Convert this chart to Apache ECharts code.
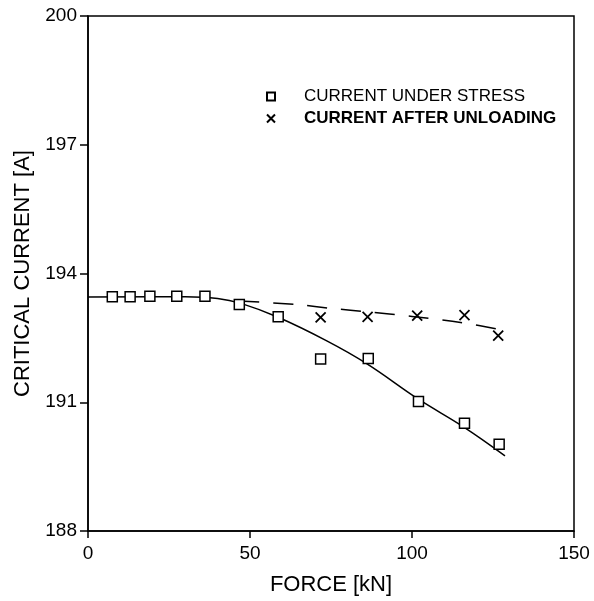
<!DOCTYPE html>
<html>
<head>
<meta charset="utf-8">
<script src="https://cdn.jsdelivr.net/npm/echarts@6/dist/echarts.min.js"></script>
<style>html,body{margin:0;padding:0;background:#fff;}#c{width:594px;height:601px;}</style>
</head>
<body>
<div id="c"></div>
<script>
// Data
var stressForce = [7.5, 13, 19.1, 27.4, 36.1, 46.7, 58.7, 71.8, 86.5, 102, 116.2, 126.9];
var stressCurrent = [193.46, 193.46, 193.47, 193.47, 193.47, 193.28, 192.99, 192.01, 192.02, 191.02, 190.51, 190.02];
var unloadForce = [71.8, 86.3, 101.6, 116.2, 126.6];
var unloadCurrent = [192.98, 192.99, 193.02, 193.03, 192.55];
var fitStressX = [0, 30, 40, 47, 58.7, 73.7, 86, 102, 116, 128.7];
var fitStressY = [193.45, 193.46, 193.42, 193.31, 192.98, 192.43, 191.9, 191.07, 190.42, 189.75];
var fitUnloadX = [46.7, 64, 76, 86, 100, 115, 128];
var fitUnloadY = [193.36, 193.28, 193.18, 193.11, 193.0, 192.86, 192.68];
var xTicks = [0, 50, 100, 150];
var yTicks = [188, 191, 194, 197, 200];
var seriesNames = ['CURRENT UNDER STRESS', 'CURRENT AFTER UNLOADING'];

function zip(a, b) { return a.map(function (v, i) { return [v, b[i]]; }); }

var chart = echarts.init(document.getElementById('c'), null, {renderer: 'canvas'});
var font = 'Liberation Sans, Arial, sans-serif';
var crossPath = 'path://M0,0L10,10M10,0L0,10';
chart.setOption({
  animation: false,
  backgroundColor: '#fff',
  grid: {left: 88, right: 20, top: 16, bottom: 67, show: true, borderColor: '#000', borderWidth: 1.5, backgroundColor: 'transparent'},
  legend: {
    orient: 'vertical', left: 261, top: 83, itemGap: 5, itemWidth: 8, itemHeight: 8,
    textStyle: {fontFamily: font, fontSize: 17, color: '#000', padding: [0, 0, 0, 24]},
    data: [
      {name: seriesNames[0], icon: 'rect'},
      {name: seriesNames[1], icon: crossPath, textStyle: {fontWeight: 'bold'}}
    ]
  },
  xAxis: {
    type: 'value', min: xTicks[0], max: xTicks[xTicks.length - 1], interval: 50,
    name: 'FORCE [kN]', nameLocation: 'middle', nameGap: 43,
    nameTextStyle: {fontFamily: font, fontSize: 22, color: '#000'},
    axisLine: {lineStyle: {color: '#000', width: 1.5}},
    axisTick: {inside: false, length: 7, lineStyle: {color: '#000', width: 1.5}},
    axisLabel: {fontFamily: font, fontSize: 19, color: '#000', margin: 13},
    splitLine: {show: false}
  },
  yAxis: {
    type: 'value', min: yTicks[0], max: yTicks[yTicks.length - 1], interval: 3,
    name: 'CRITICAL CURRENT [A]', nameLocation: 'middle', nameGap: 52, nameRotate: 90,
    nameTextStyle: {fontFamily: font, fontSize: 22, color: '#000'},
    axisLine: {lineStyle: {color: '#000', width: 1.5}},
    axisTick: {inside: false, length: 8, lineStyle: {color: '#000', width: 1.5}},
    axisLabel: {fontFamily: font, fontSize: 19, color: '#000', margin: 11},
    splitLine: {show: false}
  },
  series: [
    {
      name: 'fit1', type: 'line', data: zip(fitStressX, fitStressY), smooth: 0.4,
      showSymbol: false, lineStyle: {color: '#000', width: 1.5}, silent: true, z: 1
    },
    {
      name: 'fit2', type: 'line', data: zip(fitUnloadX, fitUnloadY), smooth: 0.3,
      showSymbol: false, lineStyle: {color: '#000', width: 1.5, type: [20, 14]}, silent: true, z: 1
    },
    {
      name: seriesNames[0], type: 'scatter', data: zip(stressForce, stressCurrent),
      symbol: 'rect', symbolSize: 10,
      itemStyle: {color: '#fff', borderColor: '#000', borderWidth: 1.5, opacity: 1}, z: 3
    },
    {
      name: seriesNames[1], type: 'scatter', data: zip(unloadForce, unloadCurrent),
      symbol: crossPath, symbolSize: 10,
      itemStyle: {color: '#000', borderColor: '#000', borderWidth: 1.8, opacity: 1}, z: 3
    }
  ]
});
</script>
</body>
</html>
